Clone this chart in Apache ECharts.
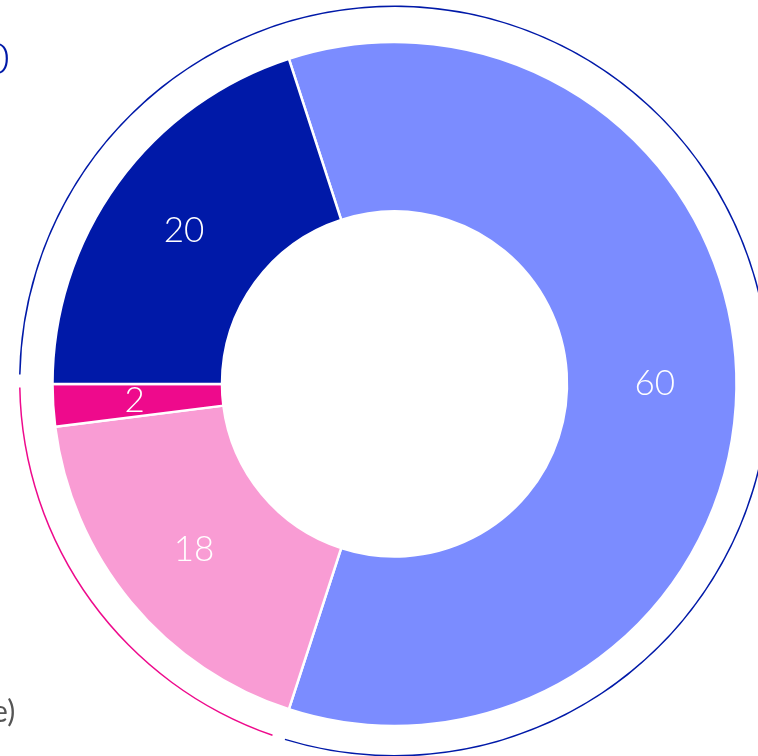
<!DOCTYPE html>
<html>
<head>
    <meta charset="utf-8" />
    <title></title>
    <style>
        html, body { margin: 0; padding: 0; background: #fff; }
        #piechart { width: 758px; height: 756px; }
    </style>
</head>
<body>
    <div id="piechart"></div>
    <script src="https://cdn.jsdelivr.net/npm/echarts@6/dist/echarts.min.js"></script>
    <script>
        // slices, clockwise from the top-left boundary
        var names = ['A', 'B', 'C', 'D'];
        var values = [60, 18, 2, 20];
        var colors = ['#7B8CFF', '#F99CD4', '#EE0A8C', '#0019A8'];

        // thin outer ring: blue group (60+20) and pink group (18+2)
        var ringNames = ['blue', 'pink'];
        var ringValues = [80, 20];
        var ringColors = ['#0019A8', '#EE0A8C'];

        var pieData = names.map(function (n, i) {
            return { name: n, value: values[i], itemStyle: { color: colors[i] } };
        });
        var ringData = ringNames.map(function (n, i) {
            return { name: n, value: ringValues[i], itemStyle: { color: ringColors[i] } };
        });

        var option = {
            backgroundColor: '#fff',
            animation: false,
            graphic: [
                { type: 'text', left: -16, top: 38, style: { text: '0', fill: '#0019A8', font: '300 44px Lato, "Noto Sans", sans-serif' } },
                { type: 'text', left: -8, top: 697, style: { text: 'e)', fill: '#555', font: '400 30px Lato, "Noto Sans", sans-serif' } },
                { type: 'text', left: -10, top: 735, style: { text: ')', fill: '#555', font: '400 30px Lato, "Noto Sans", sans-serif' } }
            ],
            series: [{
                type: 'pie',
                silent: true,
                center: [394.5, 384],
                radius: [172.5, 342],
                startAngle: 108,
                clockwise: true,
                itemStyle: { borderColor: '#fff', borderWidth: 2.5 },
                label: {
                    show: true,
                    position: 'inside',
                    formatter: '{c}',
                    color: '#fff',
                    fontSize: 35,
                    fontWeight: 300,
                    fontFamily: 'Lato, "Noto Sans", sans-serif'
                },
                labelLine: { show: false },
                data: pieData
            }, {
                type: 'pie',
                silent: true,
                center: [394.5, 381],
                radius: [374, 375.5],
                startAngle: 180,
                padAngle: 2,
                label: { show: false },
                labelLine: { show: false },
                data: ringData
            }]
        };

        var chart = echarts.init(document.getElementById('piechart'));
        chart.setOption(option);
    </script>
</body>
</html>
